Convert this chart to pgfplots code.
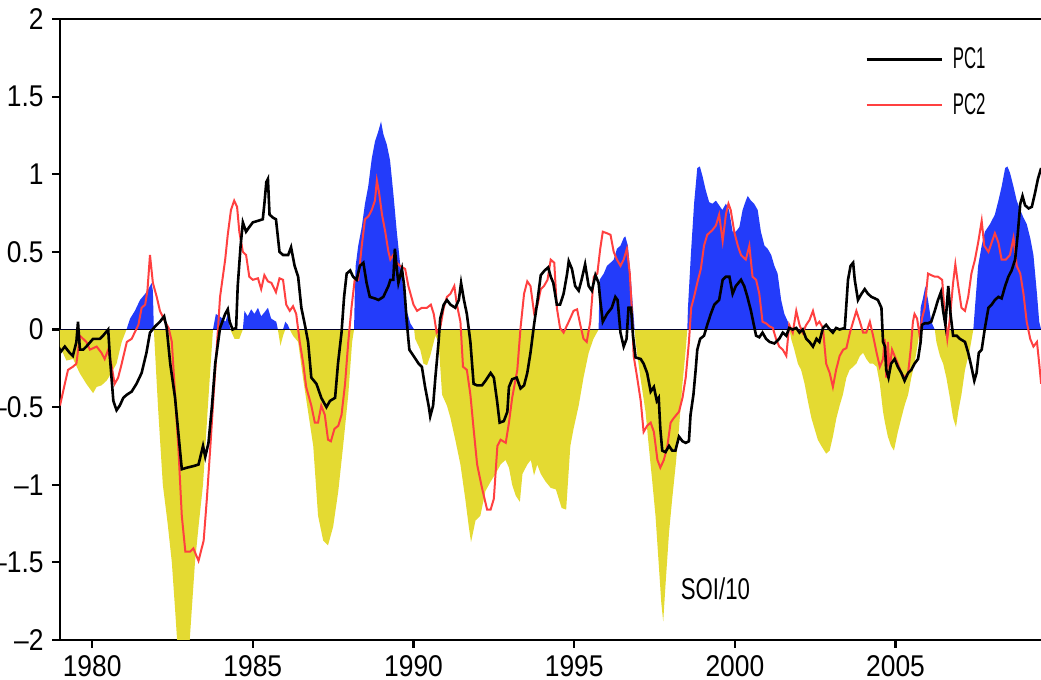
\documentclass[border=0pt]{standalone}
\usepackage{fontspec}
\setmainfont[FakeStretch=0.88]{Liberation Sans}
\newfontfamily\narrowfont[FakeStretch=0.56]{Liberation Sans}
\newfontfamily\soifont[FakeStretch=0.74]{Liberation Sans}
\usepackage{pgfplots}
\usepackage{pgfplotstable}
\pgfplotsset{compat=1.18}
\definecolor{soiblue}{RGB}{35,60,250}
\definecolor{soiyellow}{RGB}{228,218,50}
\definecolor{pcred}{RGB}{255,64,64}

\pgfplotstableread{
year soi
1979.00 -0.11
1979.20 -0.20
1979.41 -0.19
1979.61 -0.28
1979.82 -0.35
1980.03 -0.41
1980.14 -0.37
1980.29 -0.36
1980.45 -0.33
1980.60 -0.28
1980.76 -0.22
1980.92 -0.08
1981.07 0.00
1981.18 0.07
1981.33 0.12
1981.49 0.19
1981.65 0.23
1981.75 0.26
1981.85 0.30
1981.89 0.25
1981.92 0.00
1982.05 -0.50
1982.20 -1.00
1982.35 -1.25
1982.48 -1.50
1982.58 -1.80
1982.66 -2.05
1982.85 -2.15
1983.02 -2.05
1983.20 -1.50
1983.32 -1.25
1983.45 -1.00
1983.60 -0.50
1983.76 0.00
1983.85 0.10
1984.00 0.08
1984.15 0.05
1984.22 0.10
1984.28 0.02
1984.30 0.00
1984.43 -0.06
1984.58 -0.06
1984.69 0.00
1984.74 0.12
1984.84 0.085
1984.95 0.13
1985.05 0.10
1985.16 0.14
1985.26 0.085
1985.36 0.11
1985.47 0.14
1985.57 0.07
1985.73 0.05
1985.78 0.00
1985.86 -0.105
1985.94 -0.04
1986.01 0.05
1986.09 0.03
1986.15 0.00
1986.25 -0.04
1986.41 -0.08
1986.56 -0.31
1986.72 -0.53
1986.88 -0.75
1987.03 -1.20
1987.19 -1.36
1987.34 -1.39
1987.50 -1.27
1987.66 -1.04
1987.81 -0.75
1987.97 -0.42
1988.09 -0.08
1988.15 0.00
1988.18 0.30
1988.20 0.41
1988.28 0.54
1988.39 0.66
1988.49 0.81
1988.59 0.92
1988.70 1.10
1988.80 1.21
1988.91 1.28
1988.99 1.34
1989.06 1.26
1989.17 1.19
1989.27 1.09
1989.38 0.86
1989.48 0.63
1989.58 0.43
1989.69 0.25
1989.79 0.12
1989.90 0.04
1990.02 0.00
1990.05 -0.06
1990.21 -0.13
1990.31 -0.22
1990.42 -0.23
1990.52 -0.17
1990.68 -0.04
1990.78 -0.08
1990.89 -0.42
1991.04 -0.49
1991.15 -0.57
1991.30 -0.71
1991.46 -0.87
1991.61 -1.09
1991.72 -1.27
1991.79 -1.37
1991.93 -1.23
1992.08 -1.20
1992.24 -1.04
1992.40 -0.98
1992.55 -0.93
1992.71 -0.87
1992.86 -0.84
1992.97 -0.89
1993.07 -1.00
1993.18 -1.07
1993.31 -1.11
1993.39 -0.93
1993.54 -0.87
1993.65 -0.84
1993.75 -0.94
1993.85 -0.87
1993.96 -0.93
1994.11 -0.98
1994.27 -1.02
1994.43 -1.03
1994.61 -1.15
1994.75 -1.16
1994.88 -0.75
1994.98 -0.64
1995.14 -0.49
1995.29 -0.31
1995.45 -0.15
1995.60 -0.06
1995.76 0.00
1995.79 0.32
1995.92 0.36
1996.02 0.41
1996.13 0.43
1996.23 0.45
1996.33 0.52
1996.44 0.54
1996.54 0.59
1996.59 0.60
1996.67 0.54
1996.75 0.36
1996.83 0.14
1996.88 0.00
1996.91 -0.08
1997.06 -0.31
1997.22 -0.53
1997.32 -0.75
1997.43 -0.98
1997.53 -1.20
1997.64 -1.54
1997.71 -1.76
1997.77 -1.88
1997.84 -1.65
1997.95 -1.31
1998.05 -1.09
1998.16 -0.87
1998.26 -0.64
1998.36 -0.37
1998.47 -0.13
1998.52 0.00
1998.54 0.14
1998.63 0.48
1998.73 0.81
1998.83 1.04
1998.91 1.05
1998.99 0.99
1999.09 0.90
1999.20 0.82
1999.30 0.81
1999.41 0.83
1999.51 0.80
1999.61 0.77
1999.72 0.81
1999.82 0.77
1999.93 0.63
2000.03 0.63
2000.14 0.66
2000.24 0.77
2000.34 0.83
2000.40 0.86
2000.50 0.83
2000.60 0.81
2000.71 0.77
2000.81 0.63
2000.92 0.54
2001.02 0.52
2001.13 0.48
2001.23 0.41
2001.33 0.36
2001.44 0.19
2001.54 0.10
2001.65 0.05
2001.70 0.00
2001.75 -0.06
2001.85 -0.13
2001.96 -0.22
2002.06 -0.26
2002.17 -0.35
2002.27 -0.46
2002.38 -0.57
2002.48 -0.64
2002.58 -0.71
2002.69 -0.75
2002.84 -0.80
2002.95 -0.78
2003.05 -0.69
2003.16 -0.57
2003.26 -0.49
2003.36 -0.42
2003.47 -0.31
2003.57 -0.26
2003.68 -0.24
2003.78 -0.22
2003.89 -0.17
2003.99 -0.15
2004.09 -0.19
2004.20 -0.22
2004.30 -0.22
2004.41 -0.24
2004.51 -0.35
2004.61 -0.53
2004.67 -0.60
2004.76 -0.69
2004.86 -0.75
2004.95 -0.78
2005.07 -0.66
2005.18 -0.57
2005.28 -0.49
2005.39 -0.42
2005.49 -0.31
2005.59 -0.22
2005.70 -0.08
2005.75 0.00
2005.78 0.14
2005.85 0.20
2005.93 0.28
2006.01 0.19
2006.11 0.05
2006.22 0.00
2006.27 -0.08
2006.38 -0.17
2006.48 -0.22
2006.58 -0.31
2006.69 -0.44
2006.79 -0.57
2006.88 -0.63
2006.95 -0.53
2007.05 -0.42
2007.16 -0.26
2007.31 -0.13
2007.42 0.00
2007.47 0.14
2007.57 0.41
2007.68 0.54
2007.78 0.63
2007.94 0.68
2008.09 0.74
2008.20 0.83
2008.30 0.92
2008.41 1.04
2008.48 1.05
2008.56 1.01
2008.67 0.92
2008.77 0.83
2008.88 0.77
2008.98 0.72
2009.08 0.68
2009.19 0.59
2009.29 0.48
2009.40 0.23
2009.47 0.05
2009.53 0.00
}\soidata

\pgfplotstableread{
year pc
1979.00 -0.15
1979.15 -0.11
1979.30 -0.15
1979.40 -0.17
1979.51 -0.08
1979.56 0.05
1979.62 -0.13
1979.72 -0.13
1979.82 -0.11
1980.03 -0.06
1980.24 -0.06
1980.34 -0.04
1980.50 0.00
1980.55 -0.17
1980.66 -0.46
1980.76 -0.52
1980.86 -0.49
1980.97 -0.44
1981.08 -0.42
1981.23 -0.40
1981.38 -0.35
1981.54 -0.28
1981.69 -0.15
1981.80 -0.02
1981.96 0.02
1982.11 0.05
1982.24 0.085
1982.32 0.01
1982.43 -0.22
1982.58 -0.44
1982.68 -0.66
1982.79 -0.90
1982.95 -0.89
1983.15 -0.88
1983.31 -0.87
1983.45 -0.75
1983.52 -0.82
1983.62 -0.73
1983.73 -0.49
1983.83 -0.22
1983.98 0.01
1984.14 0.10
1984.22 0.13
1984.28 0.05
1984.37 0.00
1984.48 0.01
1984.53 0.28
1984.62 0.54
1984.69 0.69
1984.79 0.63
1984.89 0.66
1985.00 0.69
1985.16 0.70
1985.31 0.71
1985.36 0.81
1985.42 0.95
1985.47 0.97
1985.52 0.74
1985.63 0.72
1985.72 0.71
1985.83 0.50
1985.94 0.48
1986.10 0.48
1986.19 0.53
1986.30 0.41
1986.41 0.34
1986.51 0.14
1986.62 0.03
1986.72 -0.08
1986.82 -0.31
1986.98 -0.35
1987.13 -0.44
1987.29 -0.50
1987.40 -0.46
1987.56 -0.44
1987.65 -0.22
1987.76 -0.02
1987.84 0.21
1987.92 0.36
1988.03 0.38
1988.12 0.34
1988.23 0.32
1988.33 0.41
1988.44 0.43
1988.54 0.30
1988.64 0.21
1988.80 0.20
1988.91 0.19
1989.06 0.21
1989.22 0.28
1989.28 0.32
1989.37 0.32
1989.42 0.52
1989.48 0.39
1989.53 0.30
1989.64 0.39
1989.71 0.28
1989.79 0.05
1989.87 -0.13
1990.00 -0.17
1990.16 -0.22
1990.26 -0.24
1990.36 -0.37
1990.47 -0.49
1990.52 -0.56
1990.61 -0.49
1990.68 -0.31
1990.78 -0.08
1990.83 0.07
1990.94 0.16
1991.04 0.19
1991.15 0.16
1991.30 0.14
1991.41 0.19
1991.48 0.30
1991.57 0.19
1991.66 0.10
1991.77 -0.08
1991.87 -0.35
1991.98 -0.36
1992.13 -0.36
1992.24 -0.33
1992.40 -0.28
1992.50 -0.31
1992.60 -0.46
1992.68 -0.60
1992.81 -0.59
1992.92 -0.53
1992.97 -0.37
1993.07 -0.32
1993.21 -0.31
1993.33 -0.38
1993.44 -0.36
1993.54 -0.28
1993.64 -0.15
1993.75 0.03
1993.86 0.19
1993.96 0.35
1994.08 0.38
1994.19 0.40
1994.27 0.34
1994.35 0.30
1994.46 0.16
1994.56 0.16
1994.67 0.23
1994.78 0.36
1994.83 0.44
1994.93 0.39
1995.03 0.28
1995.14 0.25
1995.23 0.32
1995.34 0.42
1995.45 0.28
1995.55 0.25
1995.66 0.35
1995.76 0.30
1995.81 0.19
1995.89 0.05
1996.02 0.10
1996.17 0.14
1996.28 0.21
1996.35 0.19
1996.44 -0.02
1996.54 -0.11
1996.63 -0.06
1996.69 0.14
1996.77 0.14
1996.83 -0.04
1996.91 -0.18
1997.07 -0.19
1997.16 -0.22
1997.27 -0.28
1997.38 -0.40
1997.48 -0.37
1997.57 -0.46
1997.63 -0.44
1997.68 -0.64
1997.74 -0.78
1997.84 -0.79
1997.95 -0.75
1998.05 -0.78
1998.15 -0.78
1998.26 -0.69
1998.37 -0.72
1998.47 -0.73
1998.57 -0.72
1998.62 -0.55
1998.71 -0.42
1998.78 -0.26
1998.83 -0.13
1998.92 -0.06
1999.04 -0.04
1999.14 0.03
1999.25 0.10
1999.36 0.16
1999.51 0.19
1999.62 0.32
1999.72 0.34
1999.83 0.34
1999.93 0.23
2000.03 0.28
2000.19 0.32
2000.29 0.28
2000.39 0.21
2000.50 0.12
2000.61 0.01
2000.66 -0.04
2000.76 -0.05
2000.86 -0.02
2000.97 -0.06
2001.08 -0.08
2001.23 -0.09
2001.38 -0.06
2001.49 -0.02
2001.60 -0.04
2001.69 0.01
2001.80 0.00
2001.91 0.01
2002.01 -0.02
2002.11 0.00
2002.22 -0.06
2002.32 -0.08
2002.43 -0.11
2002.54 -0.06
2002.63 -0.08
2002.74 0.01
2002.84 0.03
2002.95 0.00
2003.05 -0.02
2003.15 0.01
2003.26 0.00
2003.42 0.01
2003.52 0.32
2003.60 0.41
2003.68 0.43
2003.73 0.32
2003.83 0.19
2003.94 0.23
2004.04 0.26
2004.14 0.23
2004.25 0.21
2004.36 0.20
2004.45 0.19
2004.56 0.14
2004.61 -0.08
2004.67 -0.11
2004.71 -0.26
2004.78 -0.31
2004.86 -0.22
2004.97 -0.19
2005.07 -0.24
2005.18 -0.28
2005.28 -0.33
2005.39 -0.28
2005.49 -0.26
2005.59 -0.22
2005.70 -0.19
2005.78 -0.08
2005.82 0.03
2005.91 0.04
2006.01 0.04
2006.11 0.05
2006.22 0.12
2006.32 0.19
2006.41 0.24
2006.48 0.12
2006.55 0.03
2006.64 0.28
2006.71 0.10
2006.79 -0.04
2006.90 -0.04
2007.00 -0.06
2007.16 -0.08
2007.26 -0.15
2007.36 -0.24
2007.45 -0.33
2007.52 -0.28
2007.59 -0.15
2007.68 -0.13
2007.78 0.01
2007.89 0.14
2007.99 0.16
2008.09 0.19
2008.20 0.21
2008.30 0.20
2008.41 0.28
2008.51 0.34
2008.61 0.38
2008.72 0.45
2008.80 0.61
2008.88 0.81
2008.95 0.86
2009.03 0.80
2009.14 0.78
2009.24 0.79
2009.34 0.88
2009.43 0.97
2009.53 1.04
}\pcone

\pgfplotstableread{
year pc
1979.00 -0.49
1979.15 -0.35
1979.25 -0.26
1979.40 -0.24
1979.51 -0.22
1979.62 -0.04
1979.72 -0.06
1979.82 -0.08
1979.93 -0.13
1980.14 -0.11
1980.29 -0.15
1980.39 -0.19
1980.50 -0.13
1980.61 -0.24
1980.70 -0.35
1980.81 -0.31
1980.92 -0.22
1981.08 -0.08
1981.23 -0.06
1981.44 0.03
1981.54 0.14
1981.65 0.16
1981.72 0.25
1981.80 0.48
1981.89 0.30
1982.01 0.21
1982.11 0.12
1982.27 0.05
1982.38 0.01
1982.48 -0.08
1982.58 -0.42
1982.68 -0.75
1982.79 -1.20
1982.90 -1.43
1983.05 -1.43
1983.15 -1.41
1983.31 -1.49
1983.47 -1.36
1983.57 -1.09
1983.68 -0.75
1983.78 -0.42
1983.89 -0.08
1983.98 0.21
1984.14 0.45
1984.22 0.61
1984.32 0.77
1984.42 0.83
1984.51 0.79
1984.58 0.63
1984.69 0.50
1984.79 0.48
1984.89 0.34
1985.00 0.32
1985.16 0.33
1985.26 0.26
1985.36 0.35
1985.47 0.31
1985.58 0.30
1985.72 0.24
1985.83 0.33
1985.94 0.32
1986.04 0.16
1986.15 0.12
1986.25 0.15
1986.35 0.10
1986.46 -0.08
1986.57 -0.22
1986.66 -0.37
1986.82 -0.49
1986.93 -0.60
1987.03 -0.60
1987.13 -0.49
1987.24 -0.55
1987.34 -0.71
1987.43 -0.72
1987.54 -0.64
1987.66 -0.62
1987.76 -0.55
1987.87 -0.35
1987.97 -0.08
1988.07 0.14
1988.17 0.32
1988.28 0.32
1988.39 0.54
1988.49 0.71
1988.60 0.73
1988.70 0.77
1988.80 0.83
1988.86 0.96
1988.93 0.88
1989.02 0.74
1989.12 0.63
1989.22 0.50
1989.28 0.45
1989.37 0.48
1989.48 0.43
1989.58 0.41
1989.74 0.39
1989.84 0.28
1990.00 0.16
1990.11 0.12
1990.26 0.14
1990.42 0.14
1990.54 0.16
1990.63 0.10
1990.72 -0.02
1990.83 0.01
1990.94 0.14
1991.04 0.21
1991.15 0.23
1991.27 0.28
1991.35 0.16
1991.46 0.05
1991.54 -0.24
1991.66 -0.26
1991.77 -0.42
1991.87 -0.64
1991.98 -0.87
1992.13 -1.02
1992.29 -1.16
1992.40 -1.16
1992.50 -1.09
1992.61 -0.75
1992.71 -0.71
1992.87 -0.73
1992.97 -0.60
1993.07 -0.44
1993.23 -0.26
1993.33 0.01
1993.44 0.23
1993.54 0.31
1993.64 0.28
1993.75 0.11
1993.86 0.16
1993.96 0.26
1994.06 0.28
1994.17 0.32
1994.27 0.45
1994.38 0.43
1994.46 0.14
1994.56 0.01
1994.67 -0.02
1994.83 0.05
1994.98 0.12
1995.09 0.13
1995.19 0.03
1995.29 -0.06
1995.39 -0.08
1995.50 0.05
1995.61 0.34
1995.72 0.36
1995.81 0.52
1995.89 0.63
1996.02 0.62
1996.13 0.61
1996.23 0.50
1996.33 0.45
1996.44 0.41
1996.54 0.45
1996.64 0.52
1996.73 0.36
1996.80 0.10
1996.85 -0.17
1996.96 -0.31
1997.07 -0.46
1997.16 -0.66
1997.27 -0.62
1997.38 -0.60
1997.48 -0.66
1997.59 -0.84
1997.68 -0.89
1997.79 -0.84
1997.90 -0.75
1998.00 -0.60
1998.10 -0.57
1998.26 -0.53
1998.37 -0.44
1998.47 -0.31
1998.57 -0.08
1998.64 0.14
1998.73 0.21
1998.83 0.30
1998.94 0.39
1999.04 0.54
1999.14 0.61
1999.30 0.64
1999.41 0.67
1999.51 0.74
1999.62 0.57
1999.72 0.74
1999.80 0.81
1999.87 0.77
1999.98 0.63
2000.09 0.54
2000.19 0.48
2000.34 0.45
2000.45 0.54
2000.55 0.34
2000.66 0.32
2000.76 0.23
2000.86 0.05
2000.97 0.04
2001.08 0.02
2001.18 0.01
2001.28 -0.06
2001.38 -0.11
2001.49 -0.13
2001.60 -0.17
2001.69 0.03
2001.80 -0.02
2001.91 0.12
2002.01 0.03
2002.11 -0.02
2002.22 0.03
2002.32 0.06
2002.43 0.12
2002.54 0.03
2002.63 0.05
2002.74 0.01
2002.84 -0.22
2002.95 -0.28
2003.05 -0.37
2003.15 -0.26
2003.26 -0.17
2003.37 -0.13
2003.47 -0.12
2003.58 -0.02
2003.68 0.05
2003.78 0.12
2003.89 0.05
2003.99 -0.02
2004.09 -0.02
2004.20 0.05
2004.30 -0.04
2004.41 -0.15
2004.51 -0.24
2004.61 -0.19
2004.66 -0.06
2004.71 -0.31
2004.76 -0.08
2004.81 -0.26
2004.89 -0.13
2004.97 -0.17
2005.07 -0.22
2005.18 -0.28
2005.28 -0.31
2005.39 -0.28
2005.47 -0.13
2005.54 0.05
2005.59 0.10
2005.67 0.07
2005.75 -0.04
2005.82 0.07
2005.91 0.14
2006.01 0.36
2006.11 0.35
2006.22 0.34
2006.32 0.34
2006.45 0.32
2006.53 0.10
2006.61 -0.06
2006.69 0.07
2006.79 0.30
2006.86 0.42
2006.95 0.28
2007.05 0.14
2007.16 0.12
2007.26 0.21
2007.36 0.36
2007.47 0.45
2007.57 0.56
2007.68 0.70
2007.76 0.54
2007.89 0.50
2007.99 0.56
2008.09 0.62
2008.20 0.56
2008.30 0.45
2008.43 0.45
2008.56 0.48
2008.67 0.59
2008.77 0.41
2008.88 0.36
2008.98 0.23
2009.08 0.05
2009.19 -0.06
2009.29 -0.11
2009.40 -0.08
2009.47 -0.22
2009.53 -0.35
}\pctwo

\begin{document}
\begin{tikzpicture}
\begin{axis}[
  at={(0,0)}, anchor=south west,
  scale only axis,
  width=492.6pt, height=310.5pt,
  xmin=1979, xmax=2009.656,
  ymin=-2, ymax=2,
  axis line style={line width=1.1pt},
  tick align=outside,
  major tick length=4pt,
  every tick/.style={black, line width=1.1pt},
  xtick pos=bottom, ytick pos=left,
  xtick={1980,1985,1990,1995,2000,2005},
  xticklabels={1980,1985,1990,1995,2000,2005},
  ytick={-2,-1.5,-1,-0.5,0,0.5,1,1.5,2},
  yticklabels={\textendash2,\textendash1.5,\textendash1,\textendash0.5,0,0.5,1,1.5,2},
  tick label style={font=\fontsize{15}{17}\selectfont},
  yticklabel style={anchor=east, inner sep=0pt, xshift=-4pt},
  xticklabel style={anchor=north, inner sep=0pt, yshift=-3.5pt},
  legend style={at={(rel axis cs:0.817,0.955)}, anchor=north west,
    draw=none, fill=none, inner sep=0pt, row sep=11pt,
    font=\narrowfont\fontsize{15}{17}\selectfont,
    nodes={inner sep=0pt},
    column sep=5pt},
  legend cell align=left,
  legend image code/.code={\draw[#1] (0pt,0pt) -- (37.5pt,0pt);},
]
\addplot[fill=soiblue, draw=none, forget plot]
  table[x=year, y expr={max(\thisrow{soi},0)}] {\soidata} \closedcycle;
\addplot[fill=soiyellow, draw=none, forget plot]
  table[x=year, y expr={min(\thisrow{soi},0)}] {\soidata} \closedcycle;
\addplot[forget plot, color=black!85!blue, line width=0.6pt] coordinates {(1979,0) (2010,0)};
\addplot[forget plot, pcred, line width=1.0pt] table[x=year, y=pc] {\pctwo};
\addplot[forget plot, black, line width=1.3pt] table[x=year, y=pc] {\pcone};
\addlegendimage{black, line width=1.3pt}
\addlegendentry{PC1}
\addlegendimage{pcred, line width=1.0pt}
\addlegendentry{PC2}
\node[anchor=base west, font=\soifont\fontsize{15}{17}\selectfont] at (axis cs:1998.1,-1.74) {SOI/10};
\end{axis}
\pgfresetboundingbox
\useasboundingbox (-30pt,-20pt) rectangle (490.5pt,320pt);
\end{tikzpicture}
\end{document}
